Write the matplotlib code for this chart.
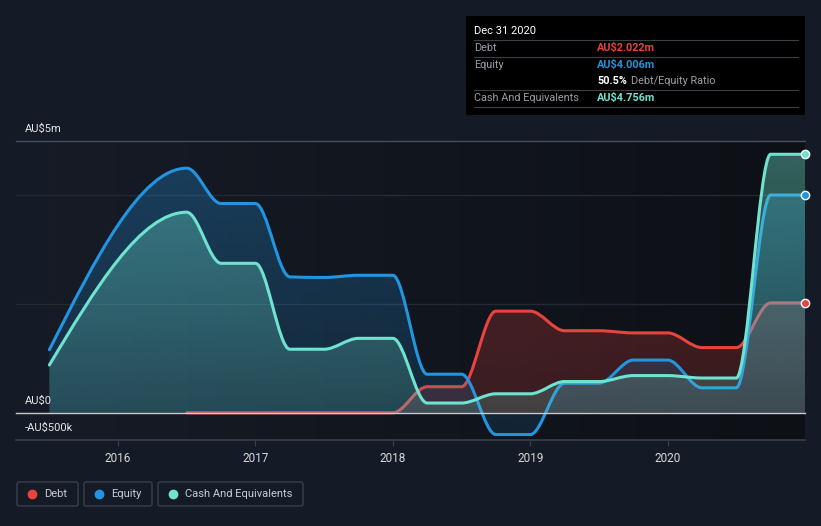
import numpy as np
import matplotlib
matplotlib.use("Agg")
import matplotlib.pyplot as plt
from matplotlib.path import Path
from matplotlib.patches import PathPatch, Rectangle, FancyBboxPatch

plt.rcParams["font.family"] = ["Roboto", "DejaVu Sans"]

# Reporting dates (decimal years) and values in AU$ millions
dates = [2015.5, 2016.5, 2016.75, 2017.0, 2017.25, 2017.5, 2017.75, 2018.0,
         2018.25, 2018.5, 2018.75, 2019.0, 2019.25, 2019.5, 2019.75, 2020.0,
         2020.25, 2020.5, 2020.75, 2021.0]
equity = [1.16, 4.50, 3.85, 3.85, 2.50, 2.49, 2.53, 2.53,
          0.71, 0.71, -0.40, -0.40, 0.545, 0.545, 0.97, 0.97,
          0.46, 0.46, 4.006, 4.006]
cash = [0.88, 3.69, 2.75, 2.75, 1.17, 1.17, 1.37, 1.37,
        0.18, 0.18, 0.35, 0.35, 0.575, 0.575, 0.685, 0.685,
        0.64, 0.64, 4.756, 4.756]
debt_dates = dates[1:]
debt = [0, 0, 0, 0, 0, 0, 0,
        0.48, 0.48, 1.87, 1.87, 1.51, 1.51, 1.47, 1.47,
        1.20, 1.20, 2.022, 2.022]

year_ticks = [2016, 2017, 2018, 2019, 2020]
y_labels = {5.0: "AU$5m", 0.0: "AU$0", -0.5: "-AU$500k"}

debt_color = "#e8433f"
equity_color = "#2394df"
cash_color = "#6fe3cf"
bg = "#151b26"

X0, X1 = 2015.49, 2021.0
Y0, Y1 = -0.5, 5.0


def monotone_path(x, y):
    # cubic bezier path through the points, monotone-x style tangents
    x = np.asarray(x, float)
    y = np.asarray(y, float)
    n = len(x)
    h = np.diff(x)
    s = np.diff(y) / h
    t = np.zeros(n)
    for i in range(1, n - 1):
        p = (s[i - 1] * h[i] + s[i] * h[i - 1]) / (h[i - 1] + h[i])
        t[i] = (np.sign(s[i - 1]) + np.sign(s[i])) * min(abs(s[i - 1]), abs(s[i]), 0.5 * abs(p))
    t[0] = (3 * s[0] - t[1]) / 2
    t[-1] = (3 * s[-1] - t[-2]) / 2
    verts = [(x[0], y[0])]
    codes = [Path.MOVETO]
    for i in range(n - 1):
        d = h[i] / 3
        verts += [(x[i] + d, y[i] + d * t[i]), (x[i + 1] - d, y[i + 1] - d * t[i + 1]), (x[i + 1], y[i + 1])]
        codes += [Path.CURVE4] * 3
    return verts, codes


fig = plt.figure(figsize=(8.21, 5.26), dpi=100, facecolor=bg)
ax = fig.add_axes([48 / 821, 86 / 526, 757 / 821, 299 / 526])
ax.set_facecolor(bg)
ax.set_xlim(X0, X1)
ax.set_ylim(Y0, Y1)

# background: horizontal gradient, figure colour on the left to darker on the right
c_left = np.array(matplotlib.colors.to_rgb("#161b26"))
c_right = np.array(matplotlib.colors.to_rgb("#0d1015"))
w = np.linspace(0, 1, 200)[None, :, None]
bg_grad = c_left * (1 - w) + c_right * w
ax.imshow(bg_grad, extent=[X0, X1, Y0, Y1], aspect="auto", zorder=0, interpolation="bilinear")

# grid lines, reaching out to the left edge of the labels
ext = -32 / 757
for v, c in [(2, "#242a35"), (4, "#242a35"), (5, "#4a4f59")]:
    ax.axhline(v, xmin=ext, xmax=1, color=c, lw=1, zorder=1, clip_on=False)
ax.axhline(0, xmin=ext, xmax=1, color="#c9cbd0", lw=1, zorder=6, clip_on=False)
ax.axhline(Y0, xmin=ext, xmax=1, color="#3a3f4a", lw=1.2, zorder=6, clip_on=False)


def draw_series(xs, ys, color, a_top, a_bot, z):
    verts, codes = monotone_path(xs, ys)
    fverts = verts + [(xs[-1], 0), (xs[0], 0), (xs[0], ys[0])]
    fcodes = codes + [Path.LINETO, Path.LINETO, Path.CLOSEPOLY]
    patch = PathPatch(Path(fverts, fcodes), facecolor="none", edgecolor="none")
    ax.add_patch(patch)
    rgb = matplotlib.colors.to_rgb(color)
    grad = np.zeros((100, 1, 4))
    grad[:, 0, :3] = rgb
    grad[:, 0, 3] = np.linspace(a_top, a_bot, 100)
    im = ax.imshow(grad, extent=[X0, X1, Y0, Y1], aspect="auto",
                   origin="upper", zorder=z, interpolation="bilinear")
    im.set_clip_path(patch)
    ax.add_patch(PathPatch(Path(verts, codes), facecolor="none", edgecolor=color,
                           lw=2.2, zorder=z + 0.5, capstyle="round"))


draw_series(debt_dates, debt, debt_color, 0.32, 0.18, 2)
draw_series(dates, equity, equity_color, 0.32, 0.12, 3)
draw_series(dates, cash, cash_color, 0.40, 0.16, 4)

# end markers
for ys, c in [(debt, debt_color), (equity, equity_color), (cash, cash_color)]:
    ax.plot(dates[-1], ys[-1], "o", ms=6, mfc=c, mec="white", mew=1, zorder=10, clip_on=False)

for sp in ax.spines.values():
    sp.set_visible(False)
ax.set_yticks([])
ax.set_xticks(year_ticks)
ax.set_xticklabels([str(y) for y in year_ticks], color="#d8d8d8", fontsize=8.5)
ax.tick_params(axis="x", length=4, width=0.8, color="#3a3f4a", pad=5)
ax.set_xlim(X0, X1)
ax.set_ylim(Y0, Y1)

# overlay in pixel coordinates for labels, tooltip and legend
ov = fig.add_axes([0, 0, 1, 1], facecolor="none")
ov.set_xlim(0, 821)
ov.set_ylim(526, 0)
ov.axis("off")

ov.text(25, 129, y_labels[5.0], color="#e6e6e6", fontsize=8, va="center")
ov.text(25, 401, y_labels[0.0], color="#e6e6e6", fontsize=8, va="center")
ov.text(25, 428, y_labels[-0.5], color="#e6e6e6", fontsize=8, va="center")

# tooltip box
ov.add_patch(Rectangle((466, 16), 339, 99, facecolor="#000000", edgecolor="none", zorder=20))
ov.text(474, 31, "Dec 31 2020", color="white", fontsize=8, va="center", zorder=21)
for yy in [40, 57, 90, 107]:
    ov.plot([474, 798], [yy, yy], color="#3c3f45", lw=0.8, zorder=21)
rows = [("Debt", "AU$2.022m", debt_color, 48),
        ("Equity", "AU$4.006m", equity_color, 65),
        ("Cash And Equivalents", "AU$4.756m", cash_color, 98)]
for name, val, c, yy in rows:
    ov.text(474, yy, name, color="#9a9ea6", fontsize=7.8, va="center", zorder=21)
    ov.text(597, yy, val, color=c, fontsize=7.8, va="center", fontweight="bold", zorder=21)
ov.text(597, 81, "50.5%", color="white", fontsize=7.8, va="center", fontweight="bold", zorder=21)
ov.text(631, 81, "Debt/Equity Ratio", color="#9a9ea6", fontsize=7.8, va="center", zorder=21)

# legend
legend_items = [("Debt", debt_color, 17, 61), ("Equity", equity_color, 84, 68),
                ("Cash And Equivalents", cash_color, 158, 145)]
for name, c, x0, w in legend_items:
    ov.add_patch(FancyBboxPatch((x0, 482), w, 24, boxstyle="round,pad=0,rounding_size=2",
                                facecolor="none", edgecolor="#3a3f4a", lw=1))
    ov.plot(x0 + 15, 494, "o", ms=6, color=c)
    ov.text(x0 + 27, 494, name, color="#c8ccd2", fontsize=8, va="center")

fig.savefig("out.png", dpi=100, facecolor=bg)
